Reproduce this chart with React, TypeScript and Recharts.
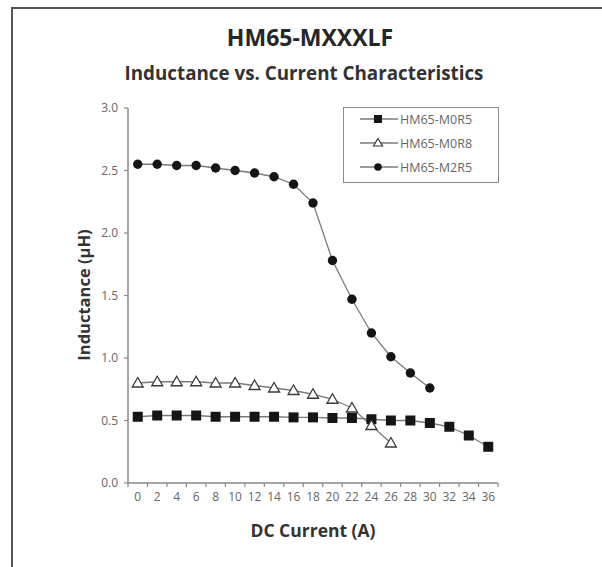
import React from 'react';
import { LineChart, Line, XAxis, YAxis } from 'recharts';

const currents = [0, 2, 4, 6, 8, 10, 12, 14, 16, 18, 20, 22, 24, 26, 28, 30, 32, 34, 36];
const m0r5 = [0.53, 0.54, 0.54, 0.54, 0.53, 0.53, 0.53, 0.53, 0.525, 0.525, 0.52, 0.52, 0.51, 0.5, 0.5, 0.48, 0.45, 0.38, 0.29];
const m0r8 = [0.8, 0.81, 0.81, 0.81, 0.8, 0.8, 0.78, 0.76, 0.74, 0.71, 0.67, 0.6, 0.46, 0.32];
const m2r5 = [2.55, 2.55, 2.54, 2.54, 2.52, 2.5, 2.48, 2.45, 2.39, 2.24, 1.78, 1.47, 1.2, 1.01, 0.88, 0.76];
const seriesNames = ['HM65-M0R5', 'HM65-M0R8', 'HM65-M2R5'];
const yTicks = [0, 0.5, 1, 1.5, 2, 2.5, 3];
const xTickPositions = [-1, 0, 1, 2, 3, 4, 5, 6, 7, 8, 9, 10, 11, 12, 13, 14, 15, 16, 17, 18, 19, 20, 21, 22, 23, 24, 25, 26, 27, 28, 29, 30, 31, 32, 33, 34, 35, 36, 37];

const toData = (vals: number[]) => vals.map((y, i) => ({ x: currents[i], y }));
const d0r5 = toData(m0r5);
const d0r8 = toData(m0r8);
const d2r5 = toData(m2r5);

const FONT = '"Open Sans", "DejaVu Sans", sans-serif';
const LINE_COLOR = '#7a7a7a';
const AXIS_COLOR = '#8a8a8a';

const SquareDot = (p: any) => (
  <rect key={`sq-${p.index}`} x={p.cx - 5} y={p.cy - 5} width={10} height={10} fill="#151515" />
);
const CircleDot = (p: any) => (
  <circle key={`ci-${p.index}`} cx={p.cx} cy={p.cy} r={4.7} fill="#151515" />
);
const TriDot = (p: any) => (
  <polygon
    key={`tr-${p.index}`}
    points={`${p.cx},${p.cy - 5.5} ${p.cx + 5.5},${p.cy + 4} ${p.cx - 5.5},${p.cy + 4}`}
    fill="#fff"
    stroke="#3a3a3a"
    strokeWidth={1.3}
  />
);

const XTick = (p: any) => {
  const v = p.payload.value;
  if (Math.abs(v % 2) === 1) {
    return <line x1={p.x} x2={p.x} y1={p.y} y2={p.y + 4} stroke={AXIS_COLOR} strokeWidth={1.2} />;
  }
  return (
    <text x={p.x} y={p.y + 18} textAnchor="middle" fontSize={12} fill="#666" fontFamily={FONT}>
      {v}
    </text>
  );
};

export default function App() {
  return (
    <div style={{ position: 'absolute', left: 0, top: 0, width: 602, height: 567, background: '#fff', overflow: 'hidden' }}>
      <div
        style={{
          position: 'absolute',
          left: 11,
          top: 7,
          width: 600,
          height: 570,
          borderTop: '2px solid #555',
          borderLeft: '2px solid #555',
        }}
      />
      <div
        style={{
          position: 'absolute',
          left: 310,
          top: 37,
          transform: 'translate(-50%, -50%)',
          fontFamily: FONT,
          fontWeight: 700,
          fontSize: 23,
          color: '#262626',
          whiteSpace: 'nowrap',
        }}
      >
        HM65-MXXXLF
      </div>
      <div
        style={{
          position: 'absolute',
          left: 304,
          top: 73,
          transform: 'translate(-50%, -50%)',
          fontFamily: FONT,
          fontWeight: 700,
          fontSize: 18.8,
          color: '#333',
          whiteSpace: 'nowrap',
        }}
      >
        Inductance vs. Current Characteristics
      </div>
      <div style={{ position: 'absolute', left: 0, top: 0 }}>
        <LineChart width={602} height={567} margin={{ top: 108, right: 104, bottom: 0, left: 0 }}>
          <XAxis
            type="number"
            dataKey="x"
            domain={[-1, 37]}
            ticks={xTickPositions}
            interval={0}
            height={84}
            tickLine={false}
            tickSize={0}
            tickMargin={0}
            tick={<XTick />}
            axisLine={{ stroke: AXIS_COLOR, strokeWidth: 1.5 }}
          />
          <YAxis
            type="number"
            domain={[0, 3]}
            ticks={yTicks}
            interval={0}
            width={128}
            tickSize={4}
            tickMargin={6}
            tickFormatter={(v: number) => v.toFixed(1)}
            tick={{ fontSize: 12, fill: '#666', fontFamily: FONT }}
            tickLine={{ stroke: AXIS_COLOR, strokeWidth: 1.2 }}
            axisLine={{ stroke: AXIS_COLOR, strokeWidth: 1.5 }}
          />
          <Line data={d0r5} dataKey="y" name={seriesNames[0]} stroke={LINE_COLOR} strokeWidth={1.3} dot={SquareDot} isAnimationActive={false} />
          <Line data={d0r8} dataKey="y" name={seriesNames[1]} stroke={LINE_COLOR} strokeWidth={1.3} dot={TriDot} isAnimationActive={false} />
          <Line data={d2r5} dataKey="y" name={seriesNames[2]} stroke={LINE_COLOR} strokeWidth={1.3} dot={CircleDot} isAnimationActive={false} />
        </LineChart>
      </div>
      <div
        style={{
          position: 'absolute',
          left: 83,
          top: 295,
          transform: 'translate(-50%, -50%) rotate(-90deg)',
          fontFamily: FONT,
          fontWeight: 700,
          fontSize: 16.5,
          color: '#333',
          whiteSpace: 'nowrap',
        }}
      >
        Inductance (µH)
      </div>
      <div
        style={{
          position: 'absolute',
          left: 313,
          top: 530,
          transform: 'translate(-50%, -50%)',
          fontFamily: FONT,
          fontWeight: 700,
          fontSize: 17.5,
          color: '#333',
          whiteSpace: 'nowrap',
        }}
      >
        DC Current (A)
      </div>
      <svg style={{ position: 'absolute', left: 343, top: 107 }} width={156} height={76}>
        <rect x={0.5} y={0.5} width={155} height={75} fill="#fff" stroke="#8a8a8a" strokeWidth={1} />
        {seriesNames.map((name, i) => {
          const cy = 12 + i * 24;
          return (
            <g key={name}>
              <line x1={17} x2={55} y1={cy} y2={cy} stroke={LINE_COLOR} strokeWidth={1.3} />
              {i === 0 && <rect x={31} y={cy - 4} width={8} height={8} fill="#151515" />}
              {i === 1 && (
                <polygon points={`35,${cy - 4.5} 39.5,${cy + 3} 30.5,${cy + 3}`} fill="#fff" stroke="#3a3a3a" strokeWidth={1.2} />
              )}
              {i === 2 && <circle cx={35} cy={cy} r={3.8} fill="#151515" />}
              <text x={57} y={cy + 4.5} fontSize={12.5} fill="#666" fontFamily={FONT}>
                {name}
              </text>
            </g>
          );
        })}
      </svg>
    </div>
  );
}
